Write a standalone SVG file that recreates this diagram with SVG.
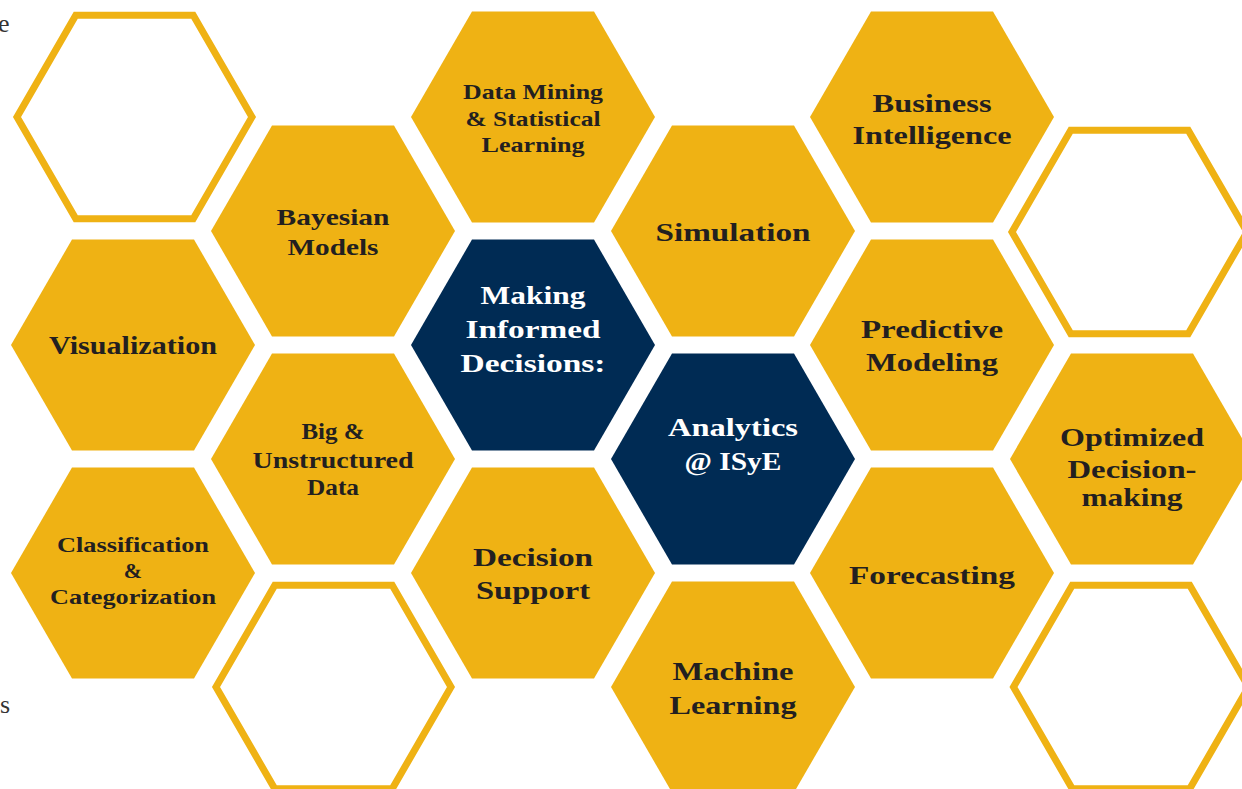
<svg xmlns="http://www.w3.org/2000/svg" xmlns:xlink="http://www.w3.org/1999/xlink" width="1242" height="789" viewBox="0 0 1242 789">
<style>
.gold{fill:#EFB214}
.navy{fill:#002B54}
.out{fill:#FFFFFF;stroke:#EFB214;stroke-width:7;stroke-linejoin:miter}
text{font-family:"Liberation Serif","DejaVu Serif",serif;font-weight:bold;text-anchor:middle}
.d{fill:#231F20}
.w{fill:#FFFFFF}
.stray{font-family:"Liberation Serif",serif;font-weight:normal;fill:#333333;font-size:26px;text-anchor:start}
</style>
<defs>
<polygon id="hx" points="-122,0 -61,-105.5 61,-105.5 122,0 61,105.5 -61,105.5"/>
<polygon id="ho" points="-117.5,0 -58.75,-101.8 58.75,-101.8 117.5,0 58.75,101.8 -58.75,101.8"/>
</defs>
<rect width="1242" height="789" fill="#FFFFFF"/>
<text class="stray" x="-2" y="32">e</text>
<text class="stray" x="0" y="713">s</text>

<g id="outline-1" transform="translate(134.5,117)"><use xlink:href="#ho" class="out"/></g>
<g id="outline-2" transform="translate(1129.5,232)"><use xlink:href="#ho" class="out"/></g>
<g id="outline-3" transform="translate(333.5,687)"><use xlink:href="#ho" class="out"/></g>
<g id="outline-4" transform="translate(1131,687)"><use xlink:href="#ho" class="out"/></g>

<g id="visualization" transform="translate(133,345)"><use xlink:href="#hx" class="gold"/>
<text class="d" font-size="25.5" y="9" textLength="168" lengthAdjust="spacingAndGlyphs">Visualization</text></g>

<g id="classification" transform="translate(133,573)"><use xlink:href="#hx" class="gold"/>
<text class="d" font-size="22" y="-21" textLength="152" lengthAdjust="spacingAndGlyphs">Classification</text>
<text class="d" font-size="22" y="5">&amp;</text>
<text class="d" font-size="22" y="31" textLength="166" lengthAdjust="spacingAndGlyphs">Categorization</text></g>

<g id="bayesian" transform="translate(333,231)"><use xlink:href="#hx" class="gold"/>
<text class="d" font-size="23.5" y="-6" textLength="113" lengthAdjust="spacingAndGlyphs">Bayesian</text>
<text class="d" font-size="23.5" y="24" textLength="91" lengthAdjust="spacingAndGlyphs">Models</text></g>

<g id="big-data" transform="translate(333,459)"><use xlink:href="#hx" class="gold"/>
<text class="d" font-size="23" y="-20" textLength="63" lengthAdjust="spacingAndGlyphs">Big &amp;</text>
<text class="d" font-size="23" y="9" textLength="161" lengthAdjust="spacingAndGlyphs">Unstructured</text>
<text class="d" font-size="23" y="36" textLength="52" lengthAdjust="spacingAndGlyphs">Data</text></g>

<g id="data-mining" transform="translate(533,117)"><use xlink:href="#hx" class="gold"/>
<text class="d" font-size="22" y="-18" textLength="140" lengthAdjust="spacingAndGlyphs">Data Mining</text>
<text class="d" font-size="22" y="9" textLength="135" lengthAdjust="spacingAndGlyphs">&amp; Statistical</text>
<text class="d" font-size="22" y="35" textLength="103" lengthAdjust="spacingAndGlyphs">Learning</text></g>

<g id="making-informed-decisions" transform="translate(533,345)"><use xlink:href="#hx" class="navy"/>
<text class="w" font-size="25.5" y="-41" textLength="105" lengthAdjust="spacingAndGlyphs">Making</text>
<text class="w" font-size="25.5" y="-7" textLength="135" lengthAdjust="spacingAndGlyphs">Informed</text>
<text class="w" font-size="25.5" y="27" textLength="145" lengthAdjust="spacingAndGlyphs">Decisions:</text></g>

<g id="decision-support" transform="translate(533,573)"><use xlink:href="#hx" class="gold"/>
<text class="d" font-size="25.5" y="-7" textLength="120" lengthAdjust="spacingAndGlyphs">Decision</text>
<text class="d" font-size="25.5" y="26" textLength="114" lengthAdjust="spacingAndGlyphs">Support</text></g>

<g id="simulation" transform="translate(733,231)"><use xlink:href="#hx" class="gold"/>
<text class="d" font-size="25.5" y="10" textLength="155" lengthAdjust="spacingAndGlyphs">Simulation</text></g>

<g id="analytics-isye" transform="translate(733,459)"><use xlink:href="#hx" class="navy"/>
<text class="w" font-size="25.5" y="-23" textLength="130" lengthAdjust="spacingAndGlyphs">Analytics</text>
<text class="w" font-size="25.5" y="11" textLength="97" lengthAdjust="spacingAndGlyphs">@ ISyE</text></g>

<g id="machine-learning" transform="translate(733,687)"><use xlink:href="#hx" class="gold"/>
<text class="d" font-size="25.5" y="-7" textLength="121" lengthAdjust="spacingAndGlyphs">Machine</text>
<text class="d" font-size="25.5" y="27" textLength="127" lengthAdjust="spacingAndGlyphs">Learning</text></g>

<g id="business-intelligence" transform="translate(932,117)"><use xlink:href="#hx" class="gold"/>
<text class="d" font-size="25.5" y="-5" textLength="119" lengthAdjust="spacingAndGlyphs">Business</text>
<text class="d" font-size="25.5" y="27" textLength="159" lengthAdjust="spacingAndGlyphs">Intelligence</text></g>

<g id="predictive-modeling" transform="translate(932,345)"><use xlink:href="#hx" class="gold"/>
<text class="d" font-size="25.5" y="-7" textLength="142" lengthAdjust="spacingAndGlyphs">Predictive</text>
<text class="d" font-size="25.5" y="26" textLength="132" lengthAdjust="spacingAndGlyphs">Modeling</text></g>

<g id="forecasting" transform="translate(932,573)"><use xlink:href="#hx" class="gold"/>
<text class="d" font-size="25.5" y="11" textLength="166" lengthAdjust="spacingAndGlyphs">Forecasting</text></g>

<g id="optimized-decision-making" transform="translate(1132,459)"><use xlink:href="#hx" class="gold"/>
<text class="d" font-size="25.5" y="-13" textLength="144" lengthAdjust="spacingAndGlyphs">Optimized</text>
<text class="d" font-size="25.5" y="19" textLength="129" lengthAdjust="spacingAndGlyphs">Decision-</text>
<text class="d" font-size="25.5" y="47" textLength="101" lengthAdjust="spacingAndGlyphs">making</text></g>

<g id="connectors"></g>
</svg>
